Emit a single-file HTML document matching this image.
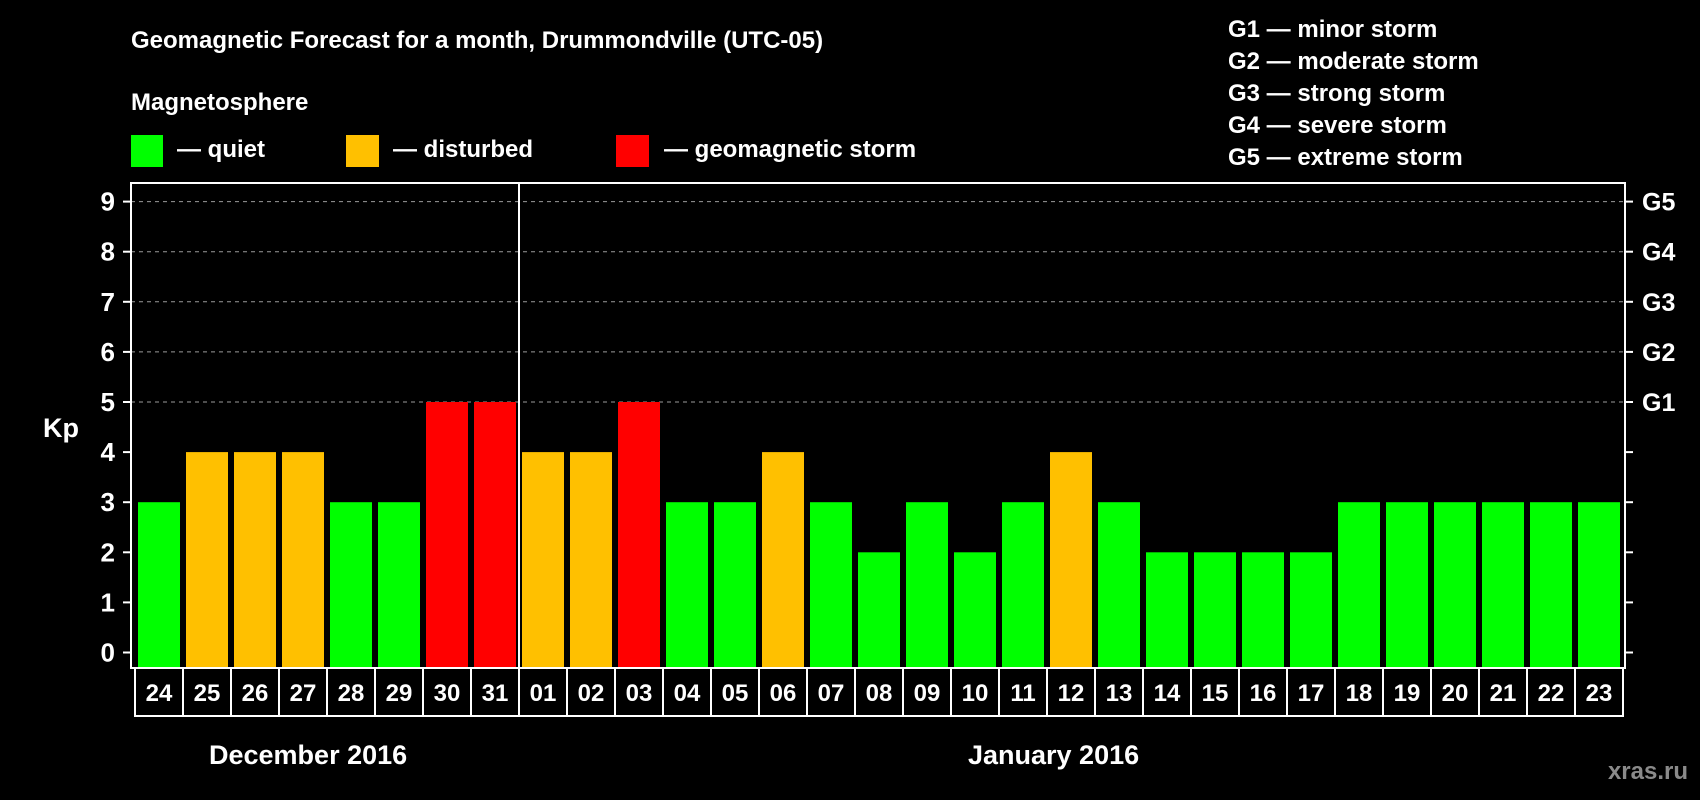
<!DOCTYPE html>
<html><head><meta charset="utf-8"><style>
html,body{margin:0;padding:0;background:#000;width:1700px;height:800px;overflow:hidden}
svg{display:block;font-family:"Liberation Sans",Arial,sans-serif;font-weight:bold}
</style></head><body>
<svg id="chart" width="1700" height="800" viewBox="0 0 1700 800">
<text x="131" y="48" font-size="24" fill="#fff">Geomagnetic Forecast for a month, Drummondville (UTC-05)</text>
<text x="131" y="110" font-size="24" fill="#fff">Magnetosphere</text>
<g><rect x="131" y="135" width="32" height="32" fill="#00ff00"/><text x="177" y="157" font-size="24" fill="#fff">— quiet</text></g>
<g><rect x="346" y="135" width="33" height="32" fill="#ffc000"/><text x="393" y="157" font-size="24" fill="#fff">— disturbed</text></g>
<g><rect x="616" y="135" width="33" height="32" fill="#ff0000"/><text x="664" y="157" font-size="24" fill="#fff">— geomagnetic storm</text></g>
<g font-size="24" fill="#fff">
<text x="1228" y="37">G1 — minor storm</text>
<text x="1228" y="69">G2 — moderate storm</text>
<text x="1228" y="101">G3 — strong storm</text>
<text x="1228" y="133">G4 — severe storm</text>
<text x="1228" y="165">G5 — extreme storm</text>
</g>
<text x="43" y="437" font-size="27" fill="#fff">Kp</text>
<g id="grid"></g>
<g id="bars"></g>
<g id="axes"></g>
<text x="209" y="764" font-size="27" fill="#fff">December 2016</text>
<text x="968" y="764" font-size="27" fill="#fff">January 2016</text>
<text x="1688" y="779" font-size="24" fill="#8a8a8a" text-anchor="end">xras.ru</text>
</svg>
<script>
const days = ["24","25","26","27","28","29","30","31","01","02","03","04","05","06","07","08","09","10","11","12","13","14","15","16","17","18","19","20","21","22","23"];
const kpValues = [3,4,4,4,3,3,5,5,4,4,5,3,3,4,3,2,3,2,3,4,3,2,2,2,2,3,3,3,3,3,3];
const yTicks = [0,1,2,3,4,5,6,7,8,9];
const gLabels = ["G1","G2","G3","G4","G5"];
const gLevels = [5,6,7,8,9];
const monthBreakIndex = 8;

const NS = "http://www.w3.org/2000/svg";
const plotL = 131, plotR = 1625, plotT = 183, plotB = 668, boxB = 716;
const y0 = 652.5, unit = 50.1;
const barX0 = 138, pitch = 48, barW = 42;
function yScale(v){ return y0 - v*unit; }
function xScale(i){ return barX0 + i*pitch; }
function colorFor(v){ return v >= 5 ? "#ff0000" : (v >= 4 ? "#ffc000" : "#00ff00"); }
function mk(tag, attrs, parent){
  const e = document.createElementNS(NS, tag);
  for (const k in attrs) e.setAttribute(k, attrs[k]);
  parent.appendChild(e); return e;
}
const grid = document.getElementById("grid");
const bars = document.getElementById("bars");
const axes = document.getElementById("axes");

gLevels.forEach((lv, i) => {
  const l = mk("line", {x1: plotL, x2: plotR, y1: yScale(lv), y2: yScale(lv), stroke: "#9a9a9a", "stroke-width": 1, "stroke-dasharray": "4,4"}, grid);
  
  
  const t = mk("text", {x: 1642, y: yScale(lv) + 9, "font-size": 25, fill: "#fff"}, axes);
  t.textContent = gLabels[i];
  
  
});

kpValues.forEach((v, i) => {
  const r = mk("rect", {x: xScale(i), y: yScale(v), width: barW, height: plotB - yScale(v), fill: colorFor(v)}, bars);
  
  
  const b = mk("rect", {x: xScale(i) - 3, y: plotB, width: pitch, height: boxB - plotB, fill: "none", stroke: "#fff", "stroke-width": 2}, axes);
  
  
  const t = mk("text", {x: xScale(i) + barW/2, y: 701, "font-size": 24, fill: "#fff", "text-anchor": "middle"}, axes);
  t.textContent = days[i];
  
  
});

const frame = mk("rect", {x: plotL, y: plotT, width: plotR - plotL, height: plotB - plotT, fill: "none", stroke: "#fff", "stroke-width": 2}, axes);



const divX = xScale(monthBreakIndex) - 3;
const div = mk("line", {x1: divX, x2: divX, y1: plotT, y2: boxB, stroke: "#fff", "stroke-width": 2}, axes);



yTicks.forEach(v => {
  const y = yScale(v);
  const tl = mk("line", {x1: plotL - 8, x2: plotL, y1: y, y2: y, stroke: "#fff", "stroke-width": 2}, axes);
  
  
  const tr = mk("line", {x1: plotR, x2: plotR + 8, y1: y, y2: y, stroke: "#fff", "stroke-width": 2}, axes);
  
  
  const t = mk("text", {x: 115, y: y + 9, "font-size": 26, fill: "#fff", "text-anchor": "end"}, axes);
  t.textContent = v;
  
  
});
</script>
</body></html>
